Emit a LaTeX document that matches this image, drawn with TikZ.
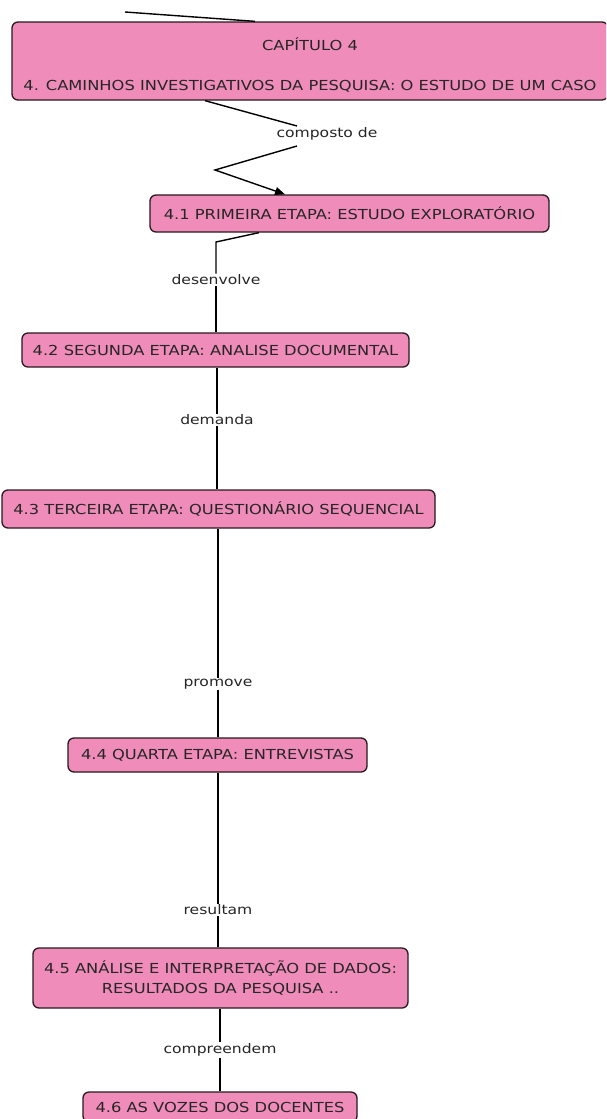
\documentclass[tikz,border=0pt]{standalone}
\usepackage{fontspec}
\setmainfont{DejaVu Sans}[FakeStretch=1.18]
\usetikzlibrary{arrows.meta}
\definecolor{conceptpink}{RGB}{240,140,186}
\definecolor{conceptedge}{RGB}{40,25,30}
\tikzset{
  concept/.style={draw=conceptedge, line width=1.3pt, fill=conceptpink, rounded corners=6pt,
    inner sep=0pt, align=center, font=\fontsize{13.8}{20}\selectfont, text=black!85},
  linklabel/.style={inner sep=1pt, font=\fontsize{13.2}{15}\selectfont, text=black!85},
  link/.style={draw=black, line width=1.4pt},
}
\begin{document}
\begin{tikzpicture}[x=1pt,y=-1pt]
\useasboundingbox (0,0) rectangle (606,1119);
\clip (0,0) rectangle (606,1119);
\fill[white] (0,0) rectangle (606,1119);

% concepts
\node[concept, minimum width=596pt, minimum height=78pt] (cap) at (310,61)
  {\rule{0pt}{20pt}CAPÍTULO 4\\[20pt]4. CAMINHOS INVESTIGATIVOS DA PESQUISA: O ESTUDO DE UM CASO};
\node[concept, minimum width=399pt, minimum height=37pt] (e1) at (349.5,213.5)
  {4.1 PRIMEIRA ETAPA: ESTUDO EXPLORATÓRIO};
\node[concept, minimum width=387pt, minimum height=34pt] (e2) at (215.5,350)
  {4.2 SEGUNDA ETAPA: ANALISE DOCUMENTAL};
\node[concept, minimum width=433pt, minimum height=38pt] (e3) at (218.5,509)
  {4.3 TERCEIRA ETAPA: QUESTIONÁRIO SEQUENCIAL};
\node[concept, minimum width=299pt, minimum height=34pt] (e4) at (217.5,755)
  {4.4 QUARTA ETAPA: ENTREVISTAS};
\node[concept, minimum width=375pt, minimum height=60pt] (e5) at (220.5,978)
  {4.5 ANÁLISE E INTERPRETAÇÃO DE DADOS:\\RESULTADOS DA PESQUISA ..};
\node[concept, minimum width=274pt, minimum height=30pt] (e6) at (220,1107)
  {4.6 AS VOZES DOS DOCENTES};

% link labels
\node[linklabel] (l0) at (327,134) {composto de};
\node[linklabel] (l1) at (216,280) {desenvolve};
\node[linklabel] (l2) at (217,420) {demanda};
\node[linklabel] (l3) at (218,684) {promove};
\node[linklabel] (l4) at (218,910) {resultam};
\node[linklabel] (l5) at (220,1050) {compreendem};

% incoming link from above the chapter box
\coordinate (above) at (125,12);
\draw[link] (above) -- (cap.north -| 255,0);

% connectors
\draw[link] (cap.south -| 205,0) -- (297,126);
\draw[link, -{Triangle[length=10pt,width=8pt]}] (297,146) -- (215,170) -- (e1.north -| 285,0);
\draw[link] (e1.south -| 259,0) -- (216,242) -- (l1.north -| 216,0);
\draw[link] (l1.south -| 216,0) -- (e2.north -| 216,0);
\draw[link] (e2.south -| 217,0) -- (l2.north -| 217,0);
\draw[link] (l2.south -| 217,0) -- (e3.north -| 217,0);
\draw[link] (e3.south -| 218,0) -- (l3.north -| 218,0);
\draw[link] (l3.south -| 218,0) -- (e4.north -| 218,0);
\draw[link] (e4.south -| 218,0) -- (l4.north -| 218,0);
\draw[link] (l4.south -| 218,0) -- (e5.north -| 218,0);
\draw[link] (e5.south -| 220,0) -- (l5.north -| 220,0);
\draw[link] (l5.south -| 220,0) -- (e6.north -| 220,0);
\end{tikzpicture}
\end{document}
